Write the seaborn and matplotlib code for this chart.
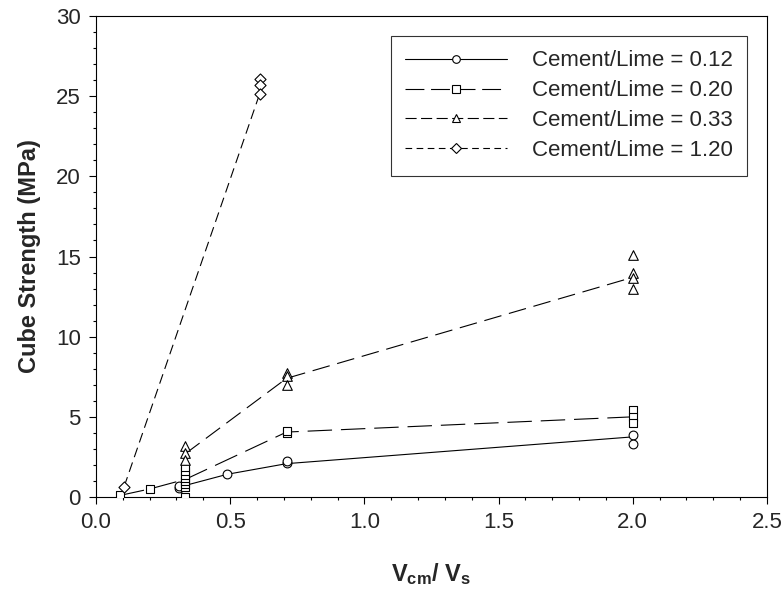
import matplotlib
matplotlib.use("Agg")
import matplotlib.pyplot as plt
from matplotlib.lines import Line2D
from matplotlib.ticker import MultipleLocator
import seaborn as sns

# measured points (Vcm/Vs, cube strength MPa)
c012_x = [0.31, 0.31, 0.49, 0.71, 0.71, 2.0, 2.0]
c012_y = [0.55, 0.68, 1.45, 2.1, 2.25, 3.85, 3.3]
c020_x = [0.09, 0.2, 0.333, 0.333, 0.333, 0.333, 0.333, 0.333, 0.333, 0.333, 0.71, 0.71, 2.0, 2.0, 2.0]
c020_y = [0.1, 0.5, 0.0, 0.6, 0.8, 1.0, 1.2, 1.4, 1.6, 1.85, 4.0, 4.1, 5.4, 5.0, 4.6]
c033_x = [0.333, 0.333, 0.333, 0.71, 0.71, 0.71, 2.0, 2.0, 2.0, 2.0]
c033_y = [3.2, 2.75, 2.3, 7.75, 7.55, 7.0, 15.1, 14.0, 13.65, 13.0]
c120_x = [0.105, 0.611, 0.611, 0.611]
c120_y = [0.65, 26.1, 25.7, 25.15]

# fitted / mean lines
l012_x = [0.31, 0.49, 0.71, 2.0]
l012_y = [0.62, 1.42, 2.08, 3.75]
l020_x = [0.09, 0.2, 0.333, 0.71, 2.0]
l020_y = [0.1, 0.5, 1.1, 4.05, 5.0]
l033_x = [0.333, 0.71, 2.0]
l033_y = [2.7, 7.4, 13.7]
l120_x = [0.105, 0.611]
l120_y = [0.65, 25.2]

labels = ["Cement/Lime = 0.12", "Cement/Lime = 0.20",
          "Cement/Lime = 0.33", "Cement/Lime = 1.20"]

sns.set_style("white")
plt.rcParams['font.family'] = ['Liberation Sans', 'DejaVu Sans']
plt.rcParams['mathtext.fontset'] = 'custom'
plt.rcParams['mathtext.rm'] = 'Liberation Sans'
plt.rcParams['mathtext.bf'] = 'Liberation Sans:bold'

fig = plt.figure(figsize=(7.84, 5.95), dpi=100)
ax = fig.add_axes([0.1224, 0.1647, 0.8559, 0.8084])

# line style on plot, line style in legend, marker, marker size
series = [
    (l012_x, l012_y, c012_x, c012_y, '-', '-', 'o', 40),
    (l020_x, l020_y, c020_x, c020_y, (0, (22, 8)), (0, (17, 6)), 's', 38),
    (l033_x, l033_y, c033_x, c033_y, (0, (16, 7)), (0, (10, 4)), '^', 48),
    (l120_x, l120_y, c120_x, c120_y, (0, (9, 5)), (0, (6, 4)), 'D', 32),
]

handles = []
for lx, ly, px, py, ls, ls_leg, mk, sz in series:
    sns.lineplot(x=lx, y=ly, color='black', linewidth=0.8, linestyle=ls,
                 sort=False, estimator=None, ax=ax, legend=False)
    sns.scatterplot(x=px, y=py, marker=mk, s=sz, facecolor='white',
                    edgecolor='black', linewidth=0.8, ax=ax, legend=False, zorder=3)
    handles.append(Line2D([], [], color='black', linewidth=0.8, linestyle=ls_leg,
                          marker=mk, markersize=5.5, markerfacecolor='white',
                          markeredgecolor='black', markeredgewidth=0.8))

ax.set_xlim(0, 2.5)
ax.set_ylim(0, 30)
ax.xaxis.set_major_locator(MultipleLocator(0.5))
ax.xaxis.set_minor_locator(MultipleLocator(0.1))
ax.yaxis.set_major_locator(MultipleLocator(5))
ax.yaxis.set_minor_locator(MultipleLocator(1))
ax.xaxis.set_major_formatter(matplotlib.ticker.FormatStrFormatter('%.1f'))
ax.tick_params(which='both', direction='out', bottom=True, left=True,
               top=False, right=False, color='black', width=0.8)
ax.tick_params(which='major', length=5, labelsize=16, pad=6)
ax.tick_params(which='minor', length=2.5)

for sp in ax.spines.values():
    sp.set_color('black')
    sp.set_linewidth(0.8)

ax.set_ylabel("Cube Strength (MPa)", fontsize=17, fontweight='bold', labelpad=11)
ax.set_xlabel(r"$\mathbf{V_{cm}}$/ $\mathbf{V_s}$", fontsize=17, fontweight='bold',
              labelpad=20)

leg = ax.legend(handles, labels, loc='upper right', fontsize=16, frameon=True,
                fancybox=False, edgecolor='black', handlelength=4.6,
                handletextpad=1.1, labelspacing=0.4, borderpad=0.65,
                borderaxespad=0.9, numpoints=1)
leg.get_frame().set_linewidth(0.8)

fig.savefig("out.png", dpi=100)
